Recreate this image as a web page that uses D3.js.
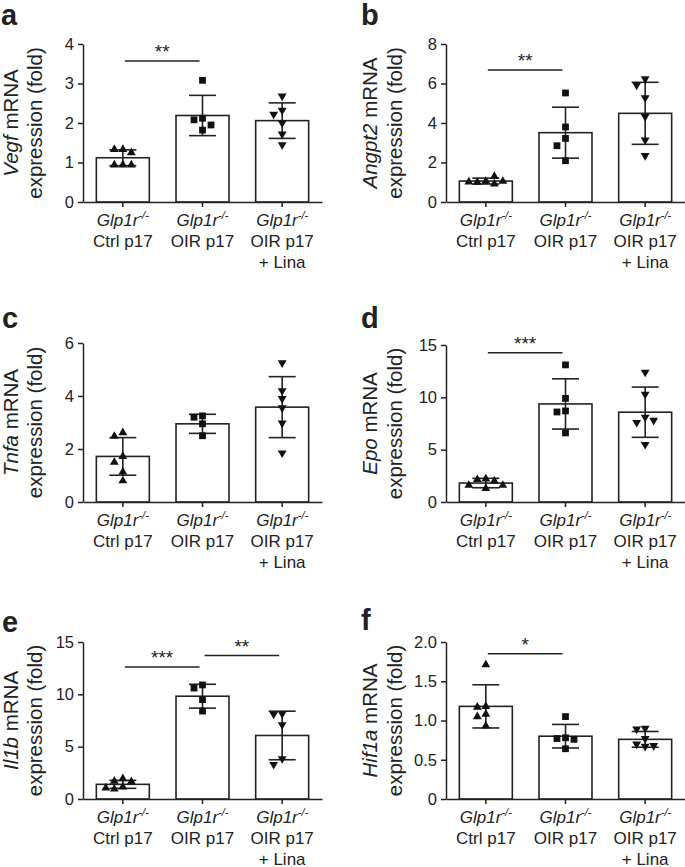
<!DOCTYPE html>
<html><head><meta charset="utf-8">
<script src="https://cdn.jsdelivr.net/npm/d3@7"></script>
<style>
body{margin:0;background:#fff}
svg{display:block}
text{font-family:"Liberation Sans",Arial,Helvetica,sans-serif;fill:#222}
</style>
</head><body>
<svg id="chart" width="685" height="867"></svg>
<script>
// ---------- data ----------
const groups = ["Ctrl p17", "OIR p17", "OIR p17 + Lina"];
const groupLines = [["Ctrl p17"], ["OIR p17"], ["OIR p17", "+ Lina"]];
const genotype = "Glp1r";
const genotypeSup = "-/-";
const genes = ["Vegf", "Angpt2", "Tnfa", "Epo", "Il1b", "Hif1a"];
const panelLetters = ["a", "b", "c", "d", "e", "f"];
const markerShapes = ["triangle", "square", "triangleDown"];

const vegfMean = [1.12, 2.19, 2.06];
const vegfSD = [0.20, 0.51, 0.45];
const vegfPts = [[1.33, 1.33, 1.25, 0.94, 0.94, 0.94], [3.08, 2.12, 2.08, 1.95, 1.82], [2.68, 2.32, 2.22, 2.0, 1.72, 1.45]];
const vegfTicks = [0, 1, 2, 3, 4];
const vegfSig = [[0, 1, 3.57, "**"]];

const angpt2Mean = [1.06, 3.51, 4.49];
const angpt2SD = [0.15, 1.29, 1.57];
const angpt2Pts = [[1.05, 1.0, 1.3, 0.92, 1.02, 1.05], [5.52, 3.8, 3.22, 2.85, 2.09], [6.24, 5.92, 5.28, 4.32, 3.14, 2.35]];
const angpt2Ticks = [0, 2, 4, 6, 8];
const angpt2Sig = [[0, 1, 6.68, "**"]];

const tnfaMean = [1.72, 2.95, 3.58];
const tnfaSD = [0.71, 0.36, 1.15];
const tnfaPts = [[2.62, 2.48, 1.72, 1.5, 1.13, 0.8], [3.25, 3.2, 2.95, 2.5], [5.25, 4.2, 3.9, 3.55, 2.98, 1.85]];
const tnfaTicks = [0, 2, 4, 6];
const tnfaSig = [];

const epoMean = [1.81, 9.37, 8.58];
const epoSD = [0.45, 2.4, 2.4];
const epoPts = [[2.2, 2.15, 2.0, 1.6, 1.6, 1.3], [13.1, 9.9, 8.7, 8.6, 6.6], [12.4, 10.3, 8.1, 7.6, 7.8, 5.5]];
const epoTicks = [0, 5, 10, 15];
const epoSig = [[0, 1, 14.26, "***"]];

const il1bMean = [1.40, 9.82, 6.07];
const il1bSD = [0.38, 1.14, 2.32];
const il1bPts = [[1.95, 1.7, 1.65, 1.15, 1.05, 0.95], [10.9, 10.6, 9.5, 8.4], [8.15, 8.1, 7.1, 3.85, 3.3]];
const il1bTicks = [0, 5, 10, 15];
const il1bSig = [[0, 1, 12.61, "***"], [1, 2, 13.7, "**"]];

const hif1aMean = [1.18, 0.80, 0.76];
const hif1aSD = [0.275, 0.15, 0.10];
const hif1aPts = [[1.71, 1.18, 1.17, 1.08, 1.05, 0.93], [1.05, 0.78, 0.77, 0.76, 0.64], [0.9, 0.89, 0.77, 0.70, 0.68, 0.67]];
const hif1aTicks = [0, 0.5, 1.0, 1.5, 2.0];
const hif1aTickLabels = ["0", "0.5", "1.0", "1.5", "2.0"];
const hif1aSig = [[0, 1, 1.85, "*"]];

// ---------- layout ----------
const layout = [
  {x0: 83,  yTop: 44,  yBot: 202, lx: 1,   ly: 25,  t1: 65, t2: 41},
  {x0: 446, yTop: 44,  yBot: 202, lx: 361, ly: 25,  t1: 69, t2: 44},
  {x0: 83,  yTop: 343, yBot: 502, lx: 2,   ly: 328, t1: 65, t2: 41},
  {x0: 446, yTop: 345, yBot: 502, lx: 361, ly: 328, t1: 69, t2: 44},
  {x0: 83,  yTop: 642, yBot: 799, lx: 2,   ly: 632, t1: 65, t2: 41},
  {x0: 446, yTop: 642, yBot: 799, lx: 361, ly: 630, t1: 69, t2: 44}
];
const panelData = [
  {mean: vegfMean, sd: vegfSD, pts: vegfPts, ticks: vegfTicks, sig: vegfSig},
  {mean: angpt2Mean, sd: angpt2SD, pts: angpt2Pts, ticks: angpt2Ticks, sig: angpt2Sig},
  {mean: tnfaMean, sd: tnfaSD, pts: tnfaPts, ticks: tnfaTicks, sig: tnfaSig},
  {mean: epoMean, sd: epoSD, pts: epoPts, ticks: epoTicks, sig: epoSig},
  {mean: il1bMean, sd: il1bSD, pts: il1bPts, ticks: il1bTicks, sig: il1bSig},
  {mean: hif1aMean, sd: hif1aSD, pts: hif1aPts, ticks: hif1aTicks, sig: hif1aSig, labels: hif1aTickLabels}
];

const INK = "#222";
const svg = d3.select("#chart");

const symbolFor = {
  triangle: d3.symbol().type(d3.symbolTriangle).size(34),
  square: d3.symbol().type(d3.symbolSquare).size(46),
  triangleDown: d3.symbol().type(d3.symbolTriangle).size(34)
};

function dodge(values, y, cx) {
  const placed = [];
  const offs = [0, -8.5, 8.5, -17, 17, -25.5, 25.5];
  return values.map(v => {
    const py = y(v);
    for (const o of offs) {
      const px = cx + o;
      if (placed.every(p => Math.hypot(p.x - px, p.y - py) >= 7.5)) {
        placed.push({x: px, y: py});
        return {x: px, y: py, v};
      }
    }
    placed.push({x: cx, y: py});
    return {x: cx, y: py, v};
  });
}

panelData.forEach((d, i) => {
  const L = layout[i];
  const g = svg.append("g");
  const y = d3.scaleLinear().domain([0, d3.max(d.ticks)]).range([L.yBot, L.yTop]);
  const x = d3.scaleBand().domain(groups).range([L.x0, L.x0 + 239]).paddingInner(0.335).paddingOuter(0.1675);
  const cx = k => x(groups[k]) + x.bandwidth() / 2;

  // bars
  g.selectAll("rect.bar").data(d.mean).join("rect")
    .attr("x", (m, k) => x(groups[k]))
    .attr("y", m => y(m))
    .attr("width", x.bandwidth())
    .attr("height", m => y(0) - y(m))
    .attr("fill", "#fff").attr("stroke", INK).attr("stroke-width", 1.6);

  // error bars
  const eb = g.selectAll("g.err").data(d.mean).join("g");
  eb.append("line")
    .attr("x1", (m, k) => cx(k)).attr("x2", (m, k) => cx(k))
    .attr("y1", (m, k) => y(m - d.sd[k])).attr("y2", (m, k) => y(m + d.sd[k]))
    .attr("stroke", INK).attr("stroke-width", 1.6);
  [1, -1].forEach(s => {
    eb.append("line")
      .attr("x1", (m, k) => cx(k) - 13.5).attr("x2", (m, k) => cx(k) + 13.5)
      .attr("y1", (m, k) => y(m + s * d.sd[k])).attr("y2", (m, k) => y(m + s * d.sd[k]))
      .attr("stroke", INK).attr("stroke-width", 1.6);
  });

  // points
  d.pts.forEach((vals, k) => {
    const shape = markerShapes[k];
    const pos = dodge(vals, y, cx(k));
    g.selectAll(null).data(pos).join("path")
      .attr("d", symbolFor[shape]())
      .attr("transform", p => `translate(${p.x},${p.y})` + (shape === "triangleDown" ? " rotate(180)" : ""))
      .attr("fill", "#111");
  });

  // y axis
  const ya = d3.axisLeft(y).tickValues(d.ticks).tickSize(5).tickSizeOuter(0).tickPadding(4)
    .tickFormat((t, j) => d.labels ? d.labels[j] : String(t));
  const yg = g.append("g").attr("transform", `translate(${L.x0},0)`).call(ya);
  yg.selectAll("path,line").attr("stroke", INK).attr("stroke-width", 1.5);
  yg.selectAll("text").attr("font-size", 16.5).attr("fill", INK)
    .style("font-family", '"Liberation Sans",Arial,sans-serif');

  // x axis
  const xa = d3.axisBottom(x).tickSize(5).tickSizeOuter(0).tickFormat("");
  const xg = g.append("g").attr("transform", `translate(0,${L.yBot})`).call(xa);
  xg.selectAll("path,line").attr("stroke", INK).attr("stroke-width", 1.5);

  // category labels
  groups.forEach((grp, k) => {
    const t = g.append("text").attr("text-anchor", "middle").attr("font-size", 17);
    const l1 = t.append("tspan").attr("x", cx(k)).attr("y", L.yBot + 24);
    l1.append("tspan").attr("font-style", "italic").text(genotype);
    l1.append("tspan").attr("font-size", 11).attr("dy", -7).attr("font-style", "italic").text(genotypeSup);
    groupLines[k].forEach((ln, j) => {
      g.append("text").attr("text-anchor", "middle").attr("font-size", 17)
        .attr("x", cx(k)).attr("y", L.yBot + 45 + j * 20.5).text(ln);
    });
  });

  // y title
  const yc = (L.yTop + L.yBot) / 2;
  const t1 = g.append("text").attr("text-anchor", "middle").attr("font-size", 20.5)
    .attr("transform", `translate(${L.x0 - L.t1},${yc}) rotate(-90)`);
  t1.append("tspan").attr("font-style", "italic").text(genes[i]);
  t1.append("tspan").text(" mRNA");
  g.append("text").attr("text-anchor", "middle").attr("font-size", 20.5)
    .attr("transform", `translate(${L.x0 - L.t2},${yc}) rotate(-90)`)
    .text("expression (fold)");

  // significance
  d.sig.forEach(([a, b, lev, lab]) => {
    const x1 = cx(a) + 2, x2 = cx(b) - 3, yy = y(lev);
    g.append("line").attr("x1", x1).attr("x2", x2).attr("y1", yy).attr("y2", yy)
      .attr("stroke", INK).attr("stroke-width", 1.5);
    g.append("text").attr("text-anchor", "middle").attr("font-size", 19)
      .attr("x", (x1 + x2) / 2).attr("y", yy - 3).text(lab);
  });

  // panel letter
  g.append("text").attr("x", L.lx).attr("y", L.ly).attr("font-size", 29)
    .attr("font-weight", "bold").attr("fill", "#000").text(panelLetters[i]);
});
</script>
</body></html>
